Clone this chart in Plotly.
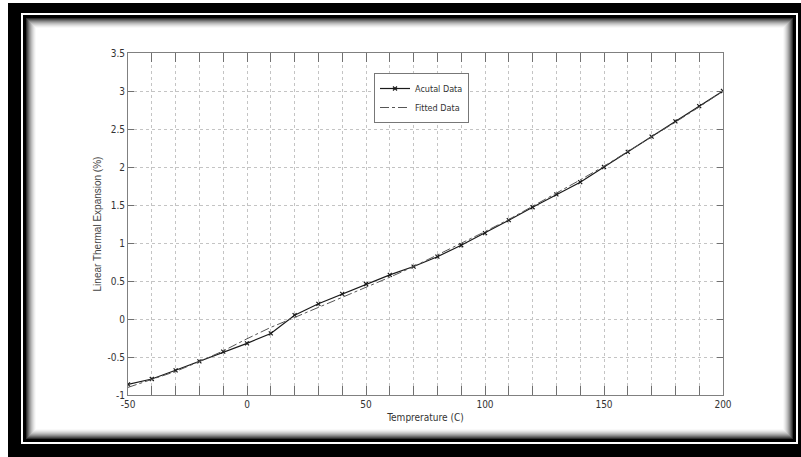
import plotly.graph_objects as go

# ---- data ----
temperature = [-50, -40, -30, -20, -10, 0, 10, 20, 30, 40, 50, 60, 70, 80, 90,
               100, 110, 120, 130, 140, 150, 160, 170, 180, 190, 200]
actual = [-0.86, -0.79, -0.675, -0.557, -0.43, -0.32, -0.19, 0.05, 0.20, 0.33,
          0.46, 0.58, 0.69, 0.82, 0.97, 1.13, 1.30, 1.47, 1.64, 1.80,
          2.00, 2.20, 2.40, 2.60, 2.80, 3.00]
fitted = [-0.90, -0.80, -0.69, -0.56, -0.42, -0.26, -0.11, 0.02, 0.15, 0.28,
          0.41, 0.55, 0.69, 0.84, 0.99, 1.15, 1.31, 1.48, 1.65, 1.83,
          2.01, 2.20, 2.39, 2.59, 2.79, 3.00]
x_tickvals = list(range(-50, 201, 10))
x_ticktext = [str(v) if v % 50 == 0 else "" for v in x_tickvals]
y_tickvals = [-1, -0.5, 0, 0.5, 1, 1.5, 2, 2.5, 3, 3.5]
y_ticktext = ["-1", "-0.5", "0", "0.5", "1", "1.5", "2", "2.5", "3", "3.5"]

# ---- layout geometry (pixels) ----
W, H = 801, 457
L, R, T, B = 128, 723, 53, 395


def px(x):
    return (x - L) / (R - L)


def py(y):
    return (B - y) / (B - T)


def rect(x0, y0, x1, y1, color):
    return dict(type="rect", xref="paper", yref="paper",
                x0=px(x0), x1=px(x1), y0=py(y1), y1=py(y0),
                fillcolor=color, line=dict(width=0), layer="below")


shapes = [
    rect(8, 3, 801, 457, "#000000"),
    rect(21, 13, 798, 444, "#ffffff"),
    rect(23, 15, 796, 442, "#000000"),
]
levels = [45, 80, 110, 140, 165, 188, 207, 224, 238, 249]
for i, g in enumerate(levels):
    shapes.append(rect(26 + i, 18 + i, 793 - i, 439 - i, f"rgb({g},{g},{g})"))
shapes.append(rect(36, 28, 783, 429, "#ffffff"))

narrow = "Liberation Sans Narrow, DejaVu Sans Condensed, Arial Narrow, Liberation Sans, sans-serif"

fig = go.Figure()
fig.add_trace(go.Scatter(
    x=temperature, y=actual, mode="lines+markers", name="Acutal Data",
    line=dict(color="#1a1a1a", width=1.2),
    marker=dict(symbol="x-thin-open", size=4, line=dict(color="#1a1a1a", width=1.2)),
))
fig.add_trace(go.Scatter(
    x=temperature, y=fitted, mode="lines", name="Fitted Data",
    line=dict(color="#555555", width=1, dash="dashdot"),
))

axis_common = dict(
    showline=True, linecolor="#808080", linewidth=1, mirror="ticks",
    ticks="inside", tickcolor="#707070", tickwidth=1,
    showgrid=True, gridcolor="#c4c4c4", gridwidth=1, griddash="dot",
    zeroline=False,
    tickfont=dict(family=narrow, size=10, color="#333333"),
)

fig.update_layout(
    width=W, height=H,
    margin=dict(l=L, r=W - R, t=T, b=H - B, pad=0),
    paper_bgcolor="#ffffff", plot_bgcolor="rgba(0,0,0,0)",
    shapes=shapes,
    showlegend=True,
    legend=dict(x=px(374), y=py(73), xanchor="left", yanchor="top",
                bgcolor="#ffffff", bordercolor="#777777", borderwidth=1,
                font=dict(family=narrow, size=9, color="#333333"),
                itemwidth=30, tracegroupgap=0),
    xaxis=dict(range=[-50, 200], tickvals=x_tickvals, ticktext=x_ticktext,
               ticklen=9,
               title=dict(text="Temprerature (C)", standoff=4,
                          font=dict(family=narrow, size=10, color="#333333")),
               **axis_common),
    yaxis=dict(range=[-1, 3.5], tickvals=y_tickvals, ticktext=y_ticktext,
               ticklen=6,
               title=dict(text="Linear Thermal Expansion (%)", standoff=3,
                          font=dict(family="Liberation Sans, Arial, sans-serif",
                                    size=10, color="#444444")),
               **axis_common),
)

fig.write_html("out.html")
